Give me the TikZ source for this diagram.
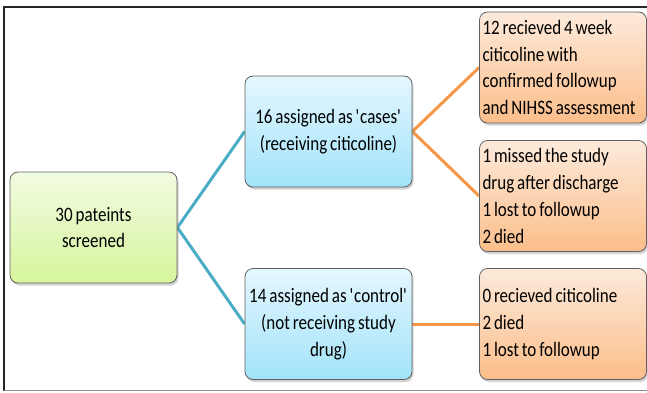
\documentclass[tikz,border=0pt]{standalone}
\usepackage{fontspec}
\setmainfont[FakeStretch=0.83,WordSpace=0.75]{Carlito}
\usetikzlibrary{shadows,backgrounds}
\definecolor{gtop}{HTML}{F2FBE2}
\definecolor{gbot}{HTML}{D6F59C}
\definecolor{btop}{HTML}{E4F7FE}
\definecolor{bbot}{HTML}{A2E3FA}
\definecolor{otop}{HTML}{FDEADB}
\definecolor{obot}{HTML}{FBBE8A}
\definecolor{tealline}{HTML}{4BACC6}
\definecolor{orangeline}{HTML}{F79646}
\definecolor{boxedge}{HTML}{5F5F5F}
\tikzset{
  basebox/.style={draw=boxedge, line width=0.8pt, rounded corners=8pt,
    drop shadow={shadow xshift=1.5pt, shadow yshift=-2.5pt, opacity=0.35},
    font=\fontsize{20.5}{26.8}\selectfont, inner sep=2pt,
    minimum width=167pt, minimum height=111pt},
  greenbox/.style={basebox, top color=gtop, bottom color=gbot, align=flush center},
  bluebox/.style={basebox, top color=btop, bottom color=bbot, align=flush center},
  orangebox/.style={basebox, top color=otop, bottom color=obot, align=flush left, text width=161pt},
  tealconn/.style={draw=tealline, line width=3pt},
  orangeconn/.style={draw=orangeline, line width=3pt}
}
\begin{document}
\begin{tikzpicture}[x=1pt,y=-1pt]
\useasboundingbox (0,0) rectangle (647,392);
\draw[line width=1.6pt, black!85] (4,391) -- (4,7) -- (647,7);
\draw[line width=1pt, black!45] (4,390.5) -- (647,390.5);

\node[greenbox] (g) at (93.5,227.5) {30 pateints\\screened};
\node[bluebox] (b1) at (328.5,131.5) {16 assigned as \textquotesingle cases\textquotesingle\\(receiving citicoline)};
\node[bluebox] (b2) at (328.5,324) {14 assigned as \textquotesingle control\textquotesingle\\(not receiving study\\drug)};
\node[orangebox] (o1) at (563,67.5) {12 recieved 4 week\\citicoline with\\confirmed followup\\and NIHSS assessment};
\node[orangebox] (o2) at (563,196) {1 missed the study\\drug after discharge\\1 lost to followup\\2 died};
\node[orangebox] (o3) at (563,324) {0 recieved citicoline\\2 died\\1 lost to followup};

\begin{pgfonlayer}{background}
\draw[tealconn] (g.east) -- (b1.west);
\draw[tealconn] (g.east) -- (b2.west);
\draw[orangeconn] (b1.east) -- (o1.west);
\draw[orangeconn] (b1.east) -- (o2.west);
\draw[orangeconn] (b2.east) -- (o3.west);
\end{pgfonlayer}
\end{tikzpicture}
\end{document}
